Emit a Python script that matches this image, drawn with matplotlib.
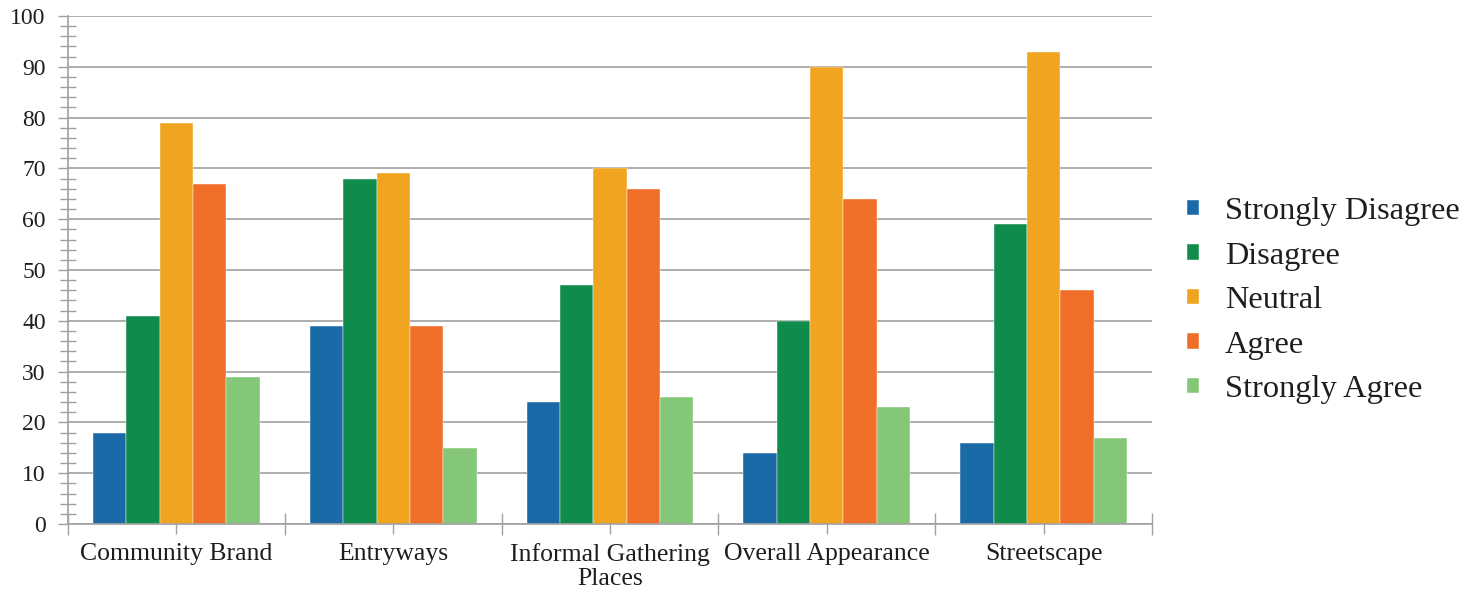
import matplotlib
matplotlib.use("Agg")
import matplotlib.pyplot as plt
from matplotlib.ticker import MultipleLocator, FixedLocator
from matplotlib.patches import Patch
import numpy as np

categories = ["Community Brand", "Entryways", "Informal Gathering\nPlaces",
              "Overall Appearance", "Streetscape"]
series_names = ["Strongly Disagree", "Disagree", "Neutral", "Agree", "Strongly Agree"]
strongly_disagree = [18, 39, 24, 14, 16]
disagree = [41, 68, 47, 40, 59]
neutral = [79, 69, 70, 90, 93]
agree = [67, 39, 66, 64, 46]
strongly_agree = [29, 15, 25, 23, 17]
colors = ["#1b6aa8", "#0f8b4b", "#f1a420", "#f06e27", "#84c779"]

series = [strongly_disagree, disagree, neutral, agree, strongly_agree]

plt.rcParams["font.family"] = ["Liberation Serif", "DejaVu Serif"]
text_color = "#1e1e1e"

fig = plt.figure(figsize=(14.76, 5.90), dpi=100)
ax = fig.add_axes([68 / 1476, 66 / 590, (1152 - 68) / 1476, (524 - 16) / 590])

x = np.arange(len(categories))
bar_w = 0.154
for i, (vals, col) in enumerate(zip(series, colors)):
    ax.bar(x + (i - 2) * bar_w, vals, width=bar_w, color=col,
           edgecolor="white", linewidth=0.3, zorder=3)

ax.set_xlim(-0.5, len(categories) - 0.5)
ax.set_ylim(0, 100)

# gridlines and y ticks
ax.yaxis.set_major_locator(MultipleLocator(10))
ax.yaxis.set_minor_locator(MultipleLocator(2))
ax.grid(axis="y", which="major", color="#a0a0a0", linewidth=1.2, zorder=0)
ax.tick_params(axis="y", which="major", direction="out", length=7, width=1,
               color="#a0a0a0", labelsize=17, labelcolor=text_color, pad=9)
ax.tick_params(axis="y", which="minor", direction="inout", length=12, width=1,
               color="#a0a0a0")

# category separators as major x ticks, category centres as minor
ax.xaxis.set_major_locator(FixedLocator(np.arange(len(categories) + 1) - 0.5))
ax.xaxis.set_minor_locator(FixedLocator(x))
ax.set_xticklabels([])
ax.set_xticks(x, minor=True)
ax.set_xticklabels(categories, minor=True, fontsize=18.5, linespacing=1.08,
                   color=text_color)
ax.tick_params(axis="x", which="major", direction="inout", length=16, width=1,
               color="#a0a0a0")
ax.tick_params(axis="x", which="minor", direction="inout", length=14, width=1,
               color="#a0a0a0", pad=7)

for s in ["top", "right"]:
    ax.spines[s].set_visible(False)
for s in ["left", "bottom"]:
    ax.spines[s].set_color("#a0a0a0")
    ax.spines[s].set_linewidth(1.2)
    ax.spines[s].set_zorder(4)

handles = [Patch(facecolor=c, edgecolor="white", linewidth=0.3) for c in colors]
leg = fig.legend(handles, series_names, loc="upper left",
                 bbox_to_anchor=(1187 / 1476, 1 - 197 / 590), frameon=False,
                 fontsize=23.3, handlelength=0.37, handleheight=0.37,
                 handletextpad=0.8, labelspacing=0.48, borderpad=0,
                 borderaxespad=0)
for t in leg.get_texts():
    t.set_color(text_color)

fig.savefig("out.png", dpi=100, facecolor="white")
